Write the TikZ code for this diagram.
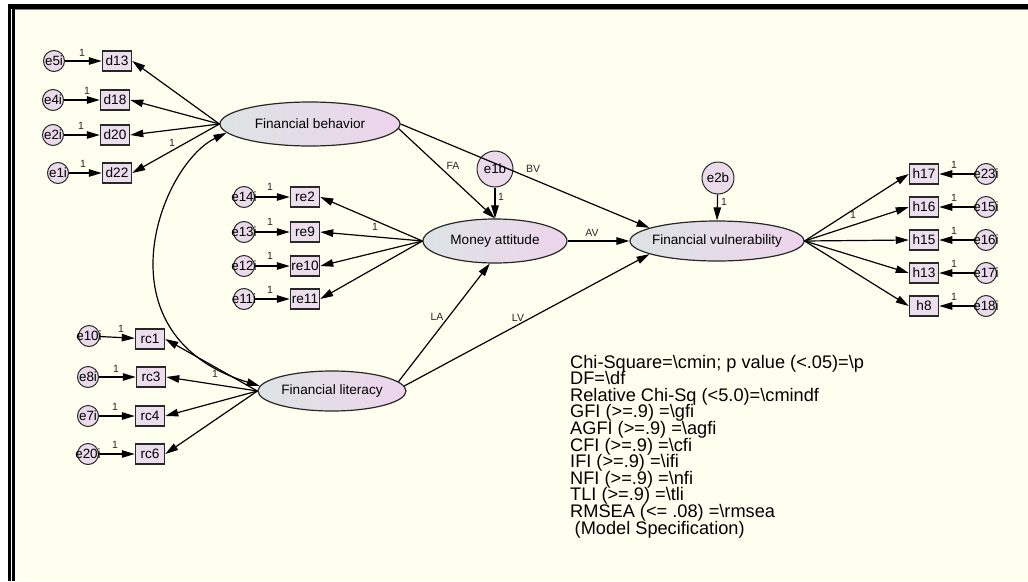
\documentclass[tikz,border=0pt]{standalone}
\usepackage{fontspec}
\setmainfont{Liberation Sans}
\usetikzlibrary{shapes.geometric,arrows.meta}

\definecolor{paper}{RGB}{255,255,240}
\definecolor{latL}{RGB}{220,228,228}
\definecolor{latR}{RGB}{238,212,236}
\definecolor{boxfill}{RGB}{236,222,236}
\definecolor{errfill}{RGB}{234,218,234}
\definecolor{ink}{RGB}{40,40,40}

% zero-width centred text, so the shape keeps its own size
\newcommand\ztxt[1]{\makebox[0pt]{#1}}

\tikzset{
  latent/.style={ellipse, draw=ink, line width=1.2pt, left color=latL, right color=latR,
                 inner sep=0pt, font=\fontsize{13.6}{15}\selectfont},
  obs/.style={rectangle, draw=ink, line width=1.5pt, fill=boxfill,
              minimum width=29pt, minimum height=20pt, inner sep=0pt,
              font=\fontsize{13.6}{15}\selectfont},
  err/.style={circle, draw=ink, line width=1pt, fill=errfill, minimum size=21pt,
              inner sep=0pt, font=\fontsize{13.4}{14}\selectfont},
  link/.style={-{Triangle[length=13pt,width=7.5pt]}, line width=1.2pt, black},
  twoway/.style={{Triangle[length=13pt,width=7.5pt]}-{Triangle[length=13pt,width=7.5pt]},
                 line width=1.2pt, black},
  lab/.style={font=\fontsize{10.5}{11}\selectfont, inner sep=0pt, text=black!85},
  fit/.style={font=\fontsize{18.2}{16.6}\selectfont, inner sep=0pt, anchor=base west},
}

\begin{document}
\begin{tikzpicture}[x=1pt, y={(0pt,-1pt)}]
\useasboundingbox (0,0) rectangle (1028,581);

% page and frame
\fill[white] (0,0) rectangle (1028,581);
\fill[paper] (15,10) rectangle (1028,581);
\fill[black] (8,4) rectangle (1028,9);
\fill[black] (8,4) rectangle (10.5,581);
\fill[black] (11.5,9) rectangle (15,581);
\draw[gray, line width=0.8pt] (15,9.6) -- (1028,9.6);

% latent variables
\node[latent, minimum width=180pt, minimum height=44pt] (FB) at (310,124) {\ztxt{Financial behavior}};
\node[latent, minimum width=144pt, minimum height=44pt] (MA) at (495,241) {\ztxt{Money attitude}};
\node[latent, minimum width=174pt, minimum height=40pt] (FV) at (717,241) {\ztxt{Financial vulnerability}};
\node[latent, minimum width=148pt, minimum height=40pt] (FL) at (332,391) {\ztxt{Financial literacy}};

% disturbances
\node[err, minimum size=36pt] (e1b) at (495,169) {\ztxt{e1b}};
\node[err, minimum size=32pt] (e2b) at (718,178) {\ztxt{e2b}};

% Financial behavior indicators
\node[obs] (d13) at (117,61) {d13};
\node[obs] (d18) at (115,100) {d18};
\node[obs] (d20) at (115,135) {d20};
\node[obs] (d22) at (117,173) {d22};
\node[err] (e5i) at (54,61) {\ztxt{e5i}};
\node[err] (e4i) at (53,100) {\ztxt{e4i}};
\node[err] (e2i) at (53,135) {\ztxt{e2i}};
\node[err] (e1i) at (58,173) {\ztxt{e1i}};

% Money attitude indicators
\node[obs] (re2) at (305,197) {re2};
\node[obs] (re9) at (305,232) {re9};
\node[obs] (re10) at (305,266) {re10};
\node[obs] (re11) at (305,299) {re11};
\node[err] (e14i) at (244,197) {\ztxt{e14i}};
\node[err] (e13i) at (244,232) {\ztxt{e13i}};
\node[err] (e12i) at (244,266) {\ztxt{e12i}};
\node[err] (e11i) at (244,299) {\ztxt{e11i}};

% Financial literacy indicators
\node[obs] (rc1) at (150,339) {rc1};
\node[obs] (rc3) at (151,377) {rc3};
\node[obs] (rc4) at (150,416) {rc4};
\node[obs] (rc6) at (150,454) {rc6};
\node[err] (e10i) at (89,336) {\ztxt{e10i}};
\node[err] (e8i) at (88,377) {\ztxt{e8i}};
\node[err] (e7i) at (88,416) {\ztxt{e7i}};
\node[err] (e20i) at (88,454) {\ztxt{e20i}};

% Financial vulnerability indicators
\node[obs] (h17) at (924,174) {h17};
\node[obs] (h16) at (924,207) {h16};
\node[obs] (h15) at (924,240) {h15};
\node[obs] (h13) at (924,273) {h13};
\node[obs] (h8)  at (924,306) {h8};
\node[err] (e23i) at (986,174) {\ztxt{e23i}};
\node[err] (e15i) at (986,207) {\ztxt{e15i}};
\node[err] (e16i) at (986,240) {\ztxt{e16i}};
\node[err] (e17i) at (986,273) {\ztxt{e17i}};
\node[err] (e18i) at (986,306) {\ztxt{e18i}};

% loadings
\foreach \t in {d13,d18,d20,d22} \draw[link] (FB.west) -- (\t.east);
\foreach \t in {re2,re9,re10,re11} \draw[link] (MA.west) -- (\t.east);
\foreach \t in {rc1,rc3,rc4,rc6} \draw[link] (FL.west) -- (\t.east);
\foreach \t in {h17,h16,h15,h13,h8} \draw[link] (FV.east) -- (\t.west);

% measurement errors
\foreach \e/\t in {e5i/d13,e4i/d18,e2i/d20,e1i/d22,e14i/re2,e13i/re9,e12i/re10,e11i/re11,
                   e10i/rc1,e8i/rc3,e7i/rc4,e20i/rc6,e23i/h17,e15i/h16,e16i/h15,e17i/h13,e18i/h8}
  \draw[link] (\e) -- (\t);

% structural paths
\draw[link] (FB.-3) -- (MA.north);
\draw[link] (FB.east) -- (FV.169);
\draw[link] (MA.east) -- (FV.west);
\draw[link] (FL.8) -- (MA.-103);
\draw[link] (FL.4) -- (FV.191);
\draw[link] (e1b) -- (MA.north);
\draw[link] (e2b) -- (FV.north);

% covariance
\draw[twoway] (FB.186) .. controls (160,165) and (95,335) .. (FL.176);

% weights and path names
\foreach \n/\x/\y in {a1/82/53, a2/87/91, a3/81/126, a4/83/164,
                      a5/270/187, a6/270/222, a7/270/256, a8/270/290,
                      a9/121/329, a10/116/369, a11/115/407, a12/115/445,
                      a13/954/165, a14/954/198, a15/954/231, a16/954/264, a17/954/297,
                      a18/172/143, a19/375/227, a20/215/374, a21/853/215,
                      a22/501/197, a23/724/202}
  \node[lab] (\n) at (\x,\y) {1};
\node[lab] (pFA) at (453,166) {FA};
\node[lab] (pBV) at (533,169) {BV};
\node[lab] (pAV) at (592,233) {AV};
\node[lab] (pLA) at (437,317) {LA};
\node[lab] (pLV) at (518,318) {LV};

% fit statistics
\node[fit] (s1)  at (570,368.0) {Chi-Square=\textbackslash cmin; p value (<.05)=\textbackslash p};
\node[fit] (s2)  at (570,384.6) {DF=\textbackslash df};
\node[fit] (s3)  at (570,401.2) {Relative Chi-Sq (<5.0)=\textbackslash cmindf};
\node[fit] (s4)  at (570,417.8) {GFI (>=.9) =\textbackslash gfi};
\node[fit] (s5)  at (570,434.4) {AGFI (>=.9) =\textbackslash agfi};
\node[fit] (s6)  at (570,451.0) {CFI (>=.9) =\textbackslash cfi};
\node[fit] (s7)  at (570,467.6) {IFI (>=.9) =\textbackslash ifi};
\node[fit] (s8)  at (570,484.2) {NFI (>=.9) =\textbackslash nfi};
\node[fit] (s9)  at (570,500.8) {TLI (>=.9) =\textbackslash tli};
\node[fit] (s10) at (570,517.4) {RMSEA (<= .08) =\textbackslash rmsea};
\node[fit] (s11) at (574.5,534.0) {(Model Specification)};
\end{tikzpicture}
\end{document}
